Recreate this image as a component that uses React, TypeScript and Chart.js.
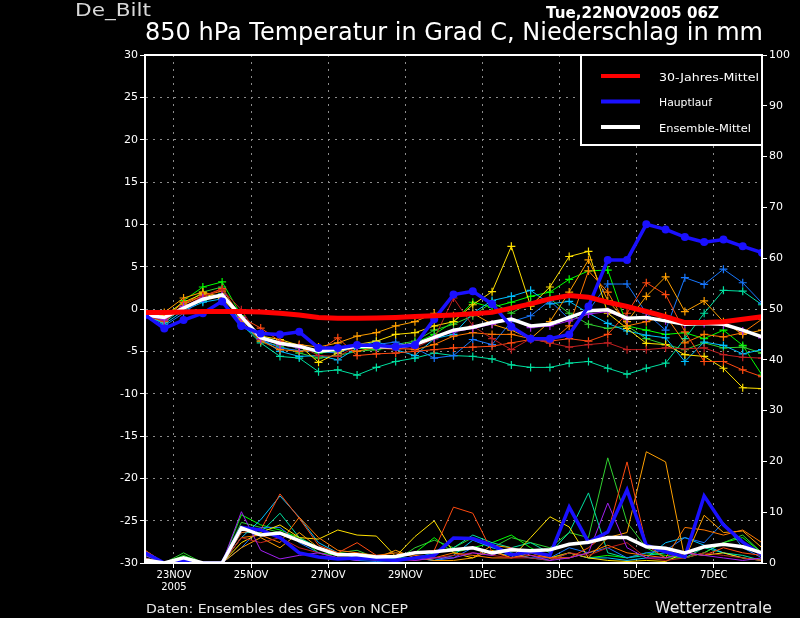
import React, { useEffect, useRef } from 'react';
import { Chart, registerables } from 'chart.js';

Chart.register(...registerables);

// 12-hourly steps from Tue 22NOV2005 06Z (index 0) to 8DEC 06Z (index 32)
const xTickPos = [1.5, 5.5, 9.5, 13.5, 17.5, 21.5, 25.5, 29.5];
const xTickLabels = ['23NOV', '25NOV', '27NOV', '29NOV', '1DEC', '3DEC', '5DEC', '7DEC'];

// 850 hPa temperature (deg C)
const climate = [-0.4, -0.4, -0.35, -0.3, -0.3, -0.3, -0.35, -0.5, -0.7, -1.0, -1.1, -1.1, -1.05, -1.0, -0.9, -0.8, -0.7, -0.55, -0.4, 0.1, 0.6, 1.2, 1.6, 1.4, 0.8, 0.3, -0.3, -0.9, -1.6, -1.6, -1.5, -1.2, -0.9];
const mainRun = [-0.7, -2.3, -1.3, -0.5, 0.9, -2.0, -2.9, -3.0, -2.7, -4.6, -4.6, -4.25, -4.3, -4.45, -4.25, -1.2, 1.7, 2.1, 0.6, -2.1, -3.5, -3.5, -3.0, 0.3, 5.8, 5.8, 10.0, 9.4, 8.5, 7.9, 8.2, 7.4, 6.65];
const ensMean = [-0.7, -1.0, 0.1, 1.15, 1.65, -0.9, -3.4, -4.05, -4.4, -5.0, -4.75, -4.4, -4.45, -4.5, -4.2, -3.35, -2.5, -2.15, -1.6, -1.2, -2.0, -1.8, -1.0, -0.2, -0.1, -1.1, -1.0, -1.4, -1.8, -1.7, -1.8, -2.5, -3.3];

// precipitation (mm)
const mainRunPrecip = [2.0, 0, 0.5, 0, 0, 7.0, 6.5, 5.0, 2.0, 1.2, 0.8, 1.0, 0.8, 0.5, 1.0, 1.5, 4.9, 4.8, 3.5, 1.6, 2.2, 1.5, 11.0, 4.1, 6.1, 14.4, 3.5, 2.2, 1.2, 13.2, 7.5, 4.1, 1.6];
const ensMeanPrecip = [0.6, 0, 1.0, 0, 0, 6.9, 5.5, 5.9, 4.4, 2.9, 1.6, 1.6, 1.2, 1.3, 2.0, 2.2, 2.6, 3.0, 2.0, 2.6, 2.4, 2.6, 3.7, 4.1, 5.0, 5.0, 3.2, 2.9, 2.0, 3.2, 3.7, 3.2, 2.0];

// ensemble members
const memberColors = ['#a020f0', '#c02020', '#ff4a10', '#ff7800', '#ffa000', '#ffe000', '#1878ff', '#00c0ff', '#00e0a0', '#30d030', '#00ff00'];

const memberTemps = [
  [-0.7, -1.3, 0.3, 1.3, 1.6, -1.0, -3.5, -4.2, -4.6, -4.9, -4.8, -4.4, -4.5, -4.5, -4.2, -3.4, -2.7, -2.3, -1.8, -1.2, -2.2, -2.0, -1.4, -0.6, -0.3, -1.2, -1.0, -1.4, -1.8, -1.7, -1.9, -2.6, -3.4],
  [-0.8, -1.4, 0.2, 1.5, 2.3, -0.1, -3.6, -4.0, -4.3, -5.5, -5.6, -4.4, -4.6, -4.8, -4.6, -3.5, 1.3, -2.0, -3.5, -4.8, -3.5, -4.0, -4.5, -4.2, -4.0, -4.8, -4.8, -4.6, -4.7, -4.6, -5.4, -5.7, -5.8],
  [-0.6, -1.2, 0.8, 1.5, 2.4, -1.0, -2.25, -3.8, -4.5, -5.0, -3.4, -5.5, -5.3, -5.2, -5.0, -4.8, -4.6, -4.5, -4.4, -4.0, -3.6, -3.8, -3.5, -3.8, -3.0, -0.5, 3.1, 1.7, -2.7, -6.2, -6.2, -7.2, -8.0],
  [-0.8, -1.5, 0.5, 1.6, 2.1, -1.4, -3.8, -4.8, -5.0, -4.8, -4.5, -5.0, -4.5, -4.6, -4.8, -4.2, -3.2, -2.8, -3.0, -3.0, -3.5, -4.0, -2.0, 4.5, 2.0, -2.0, -1.5, -0.8, -4.0, -3.0, -3.3, -2.8, -1.2],
  [-0.5, -0.4, 1.3, 2.0, 1.4, -1.2, -3.4, -4.0, -4.2, -4.5, -4.0, -3.2, -2.8, -2.0, -1.5, -0.5, -0.8, -0.5, -1.8, -2.5, -3.5, -1.5, 2.0, 5.8, 1.0, -1.5, 1.5, 3.8, -0.3, 0.95, -1.5, -3.0, -2.5],
  [-0.3, -0.8, 0.8, 1.8, 1.2, -1.0, -3.2, -3.6, -4.3, -6.3, -5.2, -4.2, -3.8, -3.0, -2.8, -2.0, -1.5, 0.5, 2.05, 7.4, 0.35, 2.6, 6.2, 6.8, -0.5, -2.3, -4.05, -4.2, -5.4, -5.6, -7.0, -9.3, -9.4],
  [-0.7, -2.0, -0.5, 1.2, 1.6, -1.6, -3.6, -4.6, -4.9, -5.0, -5.2, -4.4, -4.2, -3.9, -4.6, -5.8, -5.5, -3.6, -4.2, -1.5, -0.8, 1.0, -1.2, -0.2, 2.95, 2.95, -0.5, -2.5, 3.7, 2.9, 4.7, 3.1, 0.7],
  [-0.6, -1.8, -0.2, 0.8, 1.2, -2.0, -3.5, -5.0, -5.6, -5.5, -6.0, -4.6, -3.8, -4.8, -5.5, -3.5, -3.0, -0.5, 1.0, 1.5, 2.2, 0.6, 0.9, -0.5, -1.7, -2.6, -3.1, -3.4, -6.2, -3.9, -4.3, -5.3, -4.8],
  [-0.9, -1.6, 0.2, 1.0, 1.8, -1.8, -4.0, -5.6, -5.8, -7.4, -7.2, -7.8, -6.9, -6.2, -5.8, -5.2, -5.5, -5.6, -5.9, -6.6, -6.9, -6.9, -6.4, -6.2, -7.0, -7.7, -7.0, -6.4, -3.5, -0.5, 2.2, 2.1, 0.5],
  [-0.8, -1.5, 0.5, 2.0, 2.6, -1.5, -3.8, -4.4, -5.2, -5.8, -5.5, -5.0, -4.8, -4.2, -3.8, -2.5, -1.8, -0.8, 0.8, -0.5, 0.8, 1.2, -0.5, -1.8, -2.3, -2.0, -3.5, -4.2, -4.8, -4.0, -4.6, -4.5, -5.2],
  [-0.5, -1.2, 1.0, 2.6, 3.2, -0.8, -3.2, -4.2, -4.6, -5.2, -5.0, -4.6, -4.8, -4.5, -4.0, -3.0, -1.5, 0.8, 0.2, 0.8, 1.5, 2.0, 3.5, 4.5, 4.6, -2.0, -2.5, -3.0, -2.8, -3.5, -2.5, -4.3, -7.8],
];

const memberPrecip = [
  [1.5, 0, 0.5, 0, 0, 10.1, 2.5, 0.8, 1.5, 2, 1, 0.5, 1.5, 1, 0.5, 1, 1, 2, 1.5, 3, 1.5, 0.5, 1, 2, 11.8, 3, 1, 1, 2, 1.5, 1, 0.5, 1],
  [1, 0, 0.5, 0, 0, 5, 4, 5, 3, 2, 1, 1, 0.5, 0.5, 0.5, 1, 1.5, 2, 1.5, 1, 1, 0.5, 2, 1.5, 3, 4, 1, 0.5, 1, 2, 1.5, 1, 0.5],
  [2.5, 0, 1, 0, 0, 6, 6.5, 13.6, 8.8, 3.5, 2, 4, 1.5, 1.5, 2, 2.5, 11, 9.8, 2.2, 1, 1.5, 1, 1, 3, 6, 19.9, 3.5, 1, 2, 1.5, 3, 2, 1.5],
  [2.5, 0, 0.5, 0, 0, 5, 5.5, 4, 9, 5, 2.5, 2, 1.5, 2, 1.5, 1, 2, 1.5, 1, 1, 2, 1, 1, 2, 3.5, 2, 1.5, 1, 7, 6.5, 5.5, 6.5, 4],
  [0.5, 0, 0.5, 0, 0, 3, 5, 3, 6, 3, 2, 1.5, 1, 2.5, 1, 0.5, 0.5, 1, 3.5, 3, 2, 1, 2, 1, 5, 6, 21.9, 19.9, 0.8, 9.4, 6, 6.3, 3],
  [0, 0, 0.5, 0, 0, 4, 6, 7.5, 5, 4.7, 6.5, 5.5, 5.3, 1.3, 5.2, 8.3, 2, 1, 2.5, 1, 5, 9.1, 7.1, 1, 0.5, 0.3, 0.5, 0.3, 2, 1.5, 2, 1, 0.5],
  [1, 0, 0.5, 0, 0, 3, 7, 7, 4, 2, 1, 0.5, 0.3, 0.5, 1, 0.5, 1, 3, 2, 1.5, 1, 1, 3, 2, 3, 1, 2, 2.5, 5, 4, 8, 3, 1],
  [2, 0, 1, 0, 0, 5, 8.5, 13.2, 9, 4, 2, 1, 0.5, 1, 1, 0.5, 1.5, 4.5, 3, 2, 1, 0.5, 2, 1, 1, 0.5, 1, 4, 5, 3.5, 2, 1, 0.5],
  [0.5, 0, 1, 0, 0, 6, 6, 9.8, 5, 3, 1.5, 1.5, 1, 0.5, 1, 2, 3, 5.5, 4, 3, 4, 2, 6, 13.8, 2, 1, 1.5, 2, 1, 3, 2, 1.5, 0.5],
  [1, 0, 2, 0, 0, 8, 7, 6, 5, 3, 2, 2.5, 1, 0.5, 3, 4.5, 3, 5, 3, 5, 4, 3, 6, 5, 20.7, 8, 3, 1, 1, 2, 4, 5.5, 2],
  [1.5, 0, 1.5, 0, 0, 9.5, 7.5, 6.5, 5, 2, 1.5, 1.5, 0.5, 1, 2, 5, 2, 3, 4, 5.5, 3, 1, 2, 1, 1.5, 1, 2, 1.5, 1, 2, 4, 5, 2],
];

const legendItems = [
  { label: '30-Jahres-Mittel', color: '#ff0000' },
  { label: 'Hauptlauf', color: '#1a10ff' },
  { label: 'Ensemble-Mittel', color: '#ffffff' },
];

const FONT = "'DejaVu Sans', sans-serif";

const pts = (arr: number[]) => arr.map((v, i) => ({ x: i, y: v }));

// draw text stretched to a given width
function fitText(ctx: CanvasRenderingContext2D, text: string, x: number, y: number, w: number, font: string, color: string) {
  ctx.save();
  ctx.font = font;
  const m = ctx.measureText(text).width;
  ctx.translate(x, y);
  ctx.scale(w / m, 1);
  ctx.fillStyle = color;
  ctx.textAlign = 'left';
  ctx.textBaseline = 'alphabetic';
  ctx.fillText(text, 0, 0);
  ctx.restore();
}

const decor = {
  id: 'decor',
  beforeDraw(chart: Chart) {
    const ctx = chart.ctx;
    ctx.save();
    ctx.fillStyle = '#000';
    ctx.fillRect(0, 0, chart.width, chart.height);
    ctx.restore();
  },
  afterDraw(chart: Chart) {
    const ctx = chart.ctx;
    const a = chart.chartArea;
    ctx.save();
    ctx.strokeStyle = '#fff';
    ctx.lineWidth = 2;
    ctx.strokeRect(a.left, a.top, a.right - a.left, a.bottom - a.top);

    // legend box
    const bx = a.right - 181;
    ctx.fillStyle = '#000';
    ctx.fillRect(bx, a.top, 181, 90);
    ctx.strokeRect(bx, a.top, 181, 90);
    legendItems.forEach((it, i) => {
      const y = a.top + 21 + i * 25.5;
      ctx.strokeStyle = it.color;
      ctx.lineWidth = 4;
      ctx.beginPath();
      ctx.moveTo(bx + 20, y);
      ctx.lineTo(bx + 59, y);
      ctx.stroke();
      const w = [100, 53, 92][i];
      fitText(ctx, it.label, bx + 78, y + 4.5, w, `11px ${FONT}`, '#fff');
    });
    ctx.restore();

    fitText(ctx, 'De_Bilt', 75, 16, 76, `18px ${FONT}`, '#d8d8d8');
    fitText(ctx, 'Tue,22NOV2005 06Z', 546, 18, 173, `bold 15px ${FONT}`, '#fff');
    fitText(ctx, '850 hPa Temperatur in Grad C, Niederschlag in mm', 145, 40, 618, `24px ${FONT}`, '#fff');
    fitText(ctx, 'Daten: Ensembles des GFS von NCEP', 146, 613, 262, `13px ${FONT}`, '#e8e8e8');
    fitText(ctx, 'Wetterzentrale', 655, 613, 117, `15px ${FONT}`, '#e8e8e8');
  },
};

export default function App() {
  const canvasRef = useRef<HTMLCanvasElement>(null);
  const chartRef = useRef<Chart | null>(null);

  useEffect(() => {
    document.body.style.margin = '0';
    document.body.style.background = '#000';
    if (!canvasRef.current) return;
    if (chartRef.current) chartRef.current.destroy();

    const datasets: any[] = [];
    memberColors.forEach((c, i) => {
      datasets.push({
        data: pts(memberPrecip[i]),
        yAxisID: 'y2',
        borderColor: c,
        borderWidth: 1,
        pointRadius: 0,
        order: 20,
      });
    });
    memberColors.forEach((c, i) => {
      datasets.push({
        data: pts(memberTemps[i]),
        yAxisID: 'y',
        borderColor: c,
        borderWidth: 1,
        pointStyle: 'cross',
        pointRadius: 4,
        pointBorderWidth: 1.2,
        pointBorderColor: c,
        order: 10,
      });
    });
    datasets.push({ data: pts(ensMeanPrecip), yAxisID: 'y2', borderColor: '#fff', borderWidth: 3.5, pointRadius: 0, order: 5 });
    datasets.push({ data: pts(mainRunPrecip), yAxisID: 'y2', borderColor: '#1a10ff', borderWidth: 3.5, pointRadius: 0, order: 6 });
    datasets.push({ data: pts(ensMean), yAxisID: 'y', borderColor: '#fff', borderWidth: 3.5, pointRadius: 0, order: 3 });
    datasets.push({
      data: pts(mainRun),
      yAxisID: 'y',
      borderColor: '#1a10ff',
      backgroundColor: '#1a10ff',
      borderWidth: 3.5,
      pointRadius: 4,
      pointBorderWidth: 0,
      order: 2,
    });
    datasets.push({ data: pts(climate), yAxisID: 'y', borderColor: '#ff0000', borderWidth: 5, pointRadius: 0, order: 1 });

    const tickFont = { family: FONT, size: 11 };
    const gridCommon = { color: '#8c8c8c', lineWidth: 1, tickColor: '#fff', tickLength: 5 };

    chartRef.current = new Chart(canvasRef.current, {
      type: 'line',
      data: { datasets },
      plugins: [decor],
      options: {
        responsive: false,
        animation: false,
        layout: { padding: { top: 55, left: 0, right: 0, bottom: 0 } },
        plugins: { legend: { display: false }, tooltip: { enabled: false } },
        elements: { line: { tension: 0 } },
        scales: {
          x: {
            type: 'linear',
            min: 0,
            max: 32,
            afterBuildTicks: (s: any) => {
              s.ticks = xTickPos.map((v) => ({ value: v }));
            },
            afterFit: (s: any) => {
              s.height = 55;
            },
            ticks: {
              color: '#fff',
              font: { family: FONT, size: 10 },
              padding: 1,
              maxRotation: 0,
              autoSkip: false,
              callback: (v: any) => {
                const i = xTickPos.indexOf(Number(v));
                if (i < 0) return '';
                return i === 0 ? [xTickLabels[i], '2005'] : xTickLabels[i];
              },
            },
            grid: gridCommon,
            border: { color: '#fff', width: 2, dash: [2, 5] },
          },
          y: {
            type: 'linear',
            position: 'left',
            min: -30,
            max: 30,
            afterFit: (s: any) => {
              s.width = 145;
            },
            ticks: { stepSize: 5, color: '#fff', font: tickFont, padding: 2 },
            grid: gridCommon,
            border: { color: '#fff', width: 2, dash: [2, 5] },
          },
          y2: {
            type: 'linear',
            position: 'right',
            min: 0,
            max: 100,
            afterFit: (s: any) => {
              s.width = 38;
            },
            ticks: { stepSize: 10, color: '#fff', font: tickFont, padding: 2 },
            grid: { ...gridCommon, drawOnChartArea: false },
            border: { color: '#fff', width: 2 },
          },
        },
      },
    });

    return () => {
      if (chartRef.current) {
        chartRef.current.destroy();
        chartRef.current = null;
      }
    };
  }, []);

  return (
    <div style={{ width: 800, height: 618, background: '#000' }}>
      <canvas ref={canvasRef} width={800} height={618} />
    </div>
  );
}
